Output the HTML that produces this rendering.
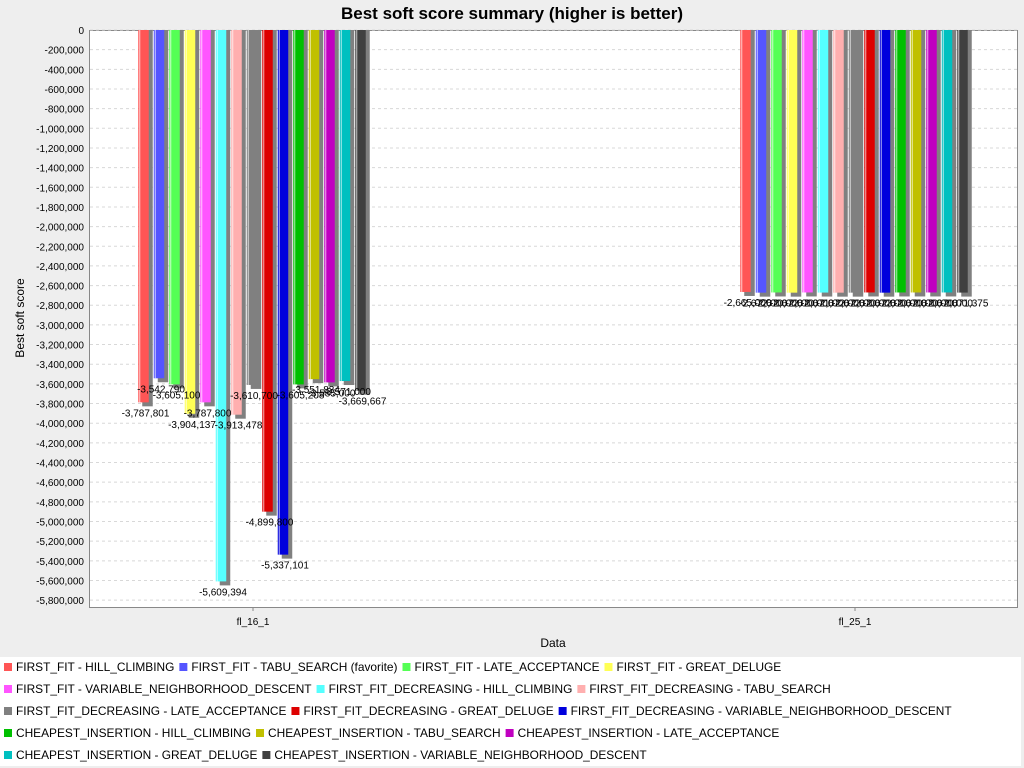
<!DOCTYPE html>
<html><head><meta charset="utf-8"><style>
html,body{margin:0;padding:0;background:#eeeeee;}
svg{display:block;font-family:"Liberation Sans",sans-serif;}
</style></head><body>
<svg id="chart" width="1024" height="768" xmlns="http://www.w3.org/2000/svg">
<rect x="0" y="0" width="1024" height="768" fill="#eeeeee"/>
<text x="512" y="19" text-anchor="middle" font-size="17" font-weight="bold">Best soft score summary (higher is better)</text>
<rect x="89.5" y="30.5" width="928" height="577" fill="#ffffff" stroke="#888888"/>
<g id="grid"></g><g id="yaxis"></g><g id="bars"></g><g id="labels"></g>
<text transform="translate(24,318) rotate(-90)" text-anchor="middle" font-size="12">Best soft score</text>
<text x="553" y="647" text-anchor="middle" font-size="12">Data</text>
<rect x="0" y="657" width="1021" height="109" fill="#ffffff"/>
<g id="legend"></g>
</svg>
<script>
const categories = ["fl_16_1", "fl_25_1"];
const seriesNames = ["FIRST_FIT - HILL_CLIMBING","FIRST_FIT - TABU_SEARCH (favorite)","FIRST_FIT - LATE_ACCEPTANCE","FIRST_FIT - GREAT_DELUGE","FIRST_FIT - VARIABLE_NEIGHBORHOOD_DESCENT","FIRST_FIT_DECREASING - HILL_CLIMBING","FIRST_FIT_DECREASING - TABU_SEARCH","FIRST_FIT_DECREASING - LATE_ACCEPTANCE","FIRST_FIT_DECREASING - GREAT_DELUGE","FIRST_FIT_DECREASING - VARIABLE_NEIGHBORHOOD_DESCENT","CHEAPEST_INSERTION - HILL_CLIMBING","CHEAPEST_INSERTION - TABU_SEARCH","CHEAPEST_INSERTION - LATE_ACCEPTANCE","CHEAPEST_INSERTION - GREAT_DELUGE","CHEAPEST_INSERTION - VARIABLE_NEIGHBORHOOD_DESCENT"];
const colors = ["#ff5555","#5555ff","#55ff55","#ffff55","#ff55ff","#55ffff","#ffafaf","#808080","#dd0000","#0000dd","#00c000","#c0c000","#c000c0","#00c0c0","#404040"];
const fl16Values = [-3787801,-3542790,-3605100,-3904137,-3787800,-5609394,-3913478,-3610700,-4899800,-5337101,-3605208,-3551834,-3585000,-3571000,-3669667];
const fl25Values = [-2665000,-2672000,-2670000,-2672000,-2670000,-2671000,-2672000,-2672000,-2670000,-2672000,-2670000,-2670000,-2670000,-2670000,-2671375];
const yTicks = [];
for (let v = 0; v >= -5800000; v -= 200000) yTicks.push(v);

const NS = "http://www.w3.org/2000/svg";
function mk(tag, attrs, parent, txt) {
  const e = document.createElementNS(NS, tag);
  for (const k in attrs) e.setAttribute(k, attrs[k]);
  if (txt !== undefined) e.textContent = txt;
  parent.appendChild(e); return e;
}
const y = v => 30 + (-v) / 1000000 * 98.3;
const catCenter = i => 253 + i * 602;
const pitch = 15.5, bw = 10.5;
const barX = (c, s) => catCenter(c) - (seriesNames.length * pitch) / 2 + s * pitch + (pitch - bw) / 2 - 1;
const fmt = v => v.toLocaleString("en-US");

const grid = document.getElementById("grid"), ya = document.getElementById("yaxis");
yTicks.forEach(v => {
  const gl = mk("line", {x1: 90, x2: 1017, y1: y(v), y2: y(v), stroke: "#d8d8d8", "stroke-dasharray": "3,3"}, grid);
  
  
  const t = mk("text", {x: 84, y: y(v) + 4, "text-anchor": "end", "font-size": 10}, ya, fmt(v));
  
  
});
categories.forEach((c, i) => {
  const t = mk("text", {x: catCenter(i), y: 625, "text-anchor": "middle", "font-size": 10}, ya, c);
  
  
  mk("line", {x1: catCenter(i), x2: catCenter(i), y1: 608, y2: 611, stroke: "#888"}, ya);
});
const bars = document.getElementById("bars"), labels = document.getElementById("labels");
[fl16Values, fl25Values].forEach((vals, c) => {
  vals.forEach((v, s) => {
    const x = barX(c, s), h = y(v) - 30;
    const sh = mk("rect", {x: x + 4, y: 30, width: bw, height: h + 4, fill: "#808080"}, bars);
    
    
    const b = mk("rect", {x: x, y: 30, width: bw, height: h, fill: colors[s]}, bars);
    
    
    mk("rect", {x: x + 1, y: 30, width: 1, height: h, fill: "#ffffff", opacity: 0.7}, bars);
    const t = mk("text", {x: x + bw / 2 + 2, y: y(v) + 14, "text-anchor": "middle", "font-size": 10}, labels, fmt(v));
    
    
  });
});
const legendRows = [[0,1,2,3],[4,5,6],[7,8,9],[10,11,12],[13,14]];
const lg = document.getElementById("legend");
legendRows.forEach((row, r) => {
  let x = 4; const yy = 667 + r * 22;
  row.forEach(s => {
    const sq = mk("rect", {x: x, y: yy - 4, width: 8, height: 8, fill: colors[s]}, lg);
    
    
    const t = mk("text", {x: x + 12, y: yy + 4, "font-size": 11.9}, lg, seriesNames[s]);
    
    
    x += 12 + t.getComputedTextLength() + 5;
  });
});
</script>
</body></html>
